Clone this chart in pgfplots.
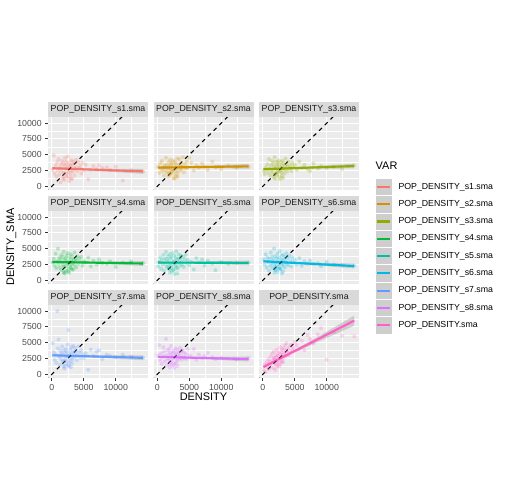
\documentclass[border=0pt]{standalone}
\usepackage{fontspec}
\setmainfont{Liberation Sans}
\usepackage{pgfplots}
\usepackage{pgfplotstable}
\pgfplotsset{compat=1.18}

\definecolor{c1}{HTML}{F8766D}
\definecolor{c2}{HTML}{D39200}
\definecolor{c3}{HTML}{93AA00}
\definecolor{c4}{HTML}{00BA38}
\definecolor{c5}{HTML}{00C19F}
\definecolor{c6}{HTML}{00B9E3}
\definecolor{c7}{HTML}{619CFF}
\definecolor{c8}{HTML}{DB72FB}
\definecolor{c9}{HTML}{FF61C3}
\definecolor{panelbg}{HTML}{EBEBEB}
\definecolor{stripbg}{HTML}{D9D9D9}
\definecolor{ticklab}{HTML}{4D4D4D}
\definecolor{tickcol}{HTML}{333333}
\definecolor{striptext}{HTML}{1A1A1A}
\definecolor{ribbon}{HTML}{999999}
\definecolor{keybg}{HTML}{CECECE}

\pgfplotstableread{
x a b c d e f g h m
150 2600 3100 2400 2800 2200 3300 4900 3000 600
300 4900 2100 1900 3400 2900 2500 3500 4600 1500
450 2000 3600 3000 2300 3600 4100 2300 2200 300
600 3300 2700 2600 4200 1800 2000 3100 3300 1900
700 1500 4000 3500 1900 3200 3600 1800 1600 1100
850 3800 2400 2100 3000 2500 2900 10000 2700 2400
950 2500 3000 4300 5000 4000 1500 4100 4300 800
1050 4300 1700 2800 2600 1500 3400 5500 3600 2000
1150 1800 3400 1700 3600 3400 2300 2700 2000 1400
1250 3000 2600 3300 2000 2700 4400 1500 2900 2800
1350 600 4500 2500 3300 4500 2700 3700 5600 1700
1450 3500 2200 4000 1600 2100 3700 2400 2400 3300
1500 2300 3300 2200 4000 3300 1900 3300 1400 2200
1600 4000 2900 3600 2800 3800 3200 4400 3800 1000
1700 2800 1500 1400 3700 2300 2600 2000 3100 2600
1750 1200 3800 3100 2400 3000 5000 3000 2600 3600
1850 3600 2500 4600 4500 1800 2200 3800 4000 1800
1900 2100 3200 2700 2100 4100 3800 2200 2300 2300
2000 3200 4200 2000 3200 2600 2800 1200 3400 3000
2050 4500 2000 3900 1200 3500 1700 3400 1900 1500
2150 2700 3500 3200 3500 2000 3500 2600 4500 2700
2200 3900 2800 1800 2700 3700 2400 4000 2800 3900
2300 1600 3700 3700 3900 2400 4200 2900 3200 2100
2350 3400 2300 2400 2300 4300 3000 3600 2100 2900
2450 2900 4100 3400 3000 2900 2100 2100 3700 3400
2500 4700 2600 4100 4300 1600 3600 4700 2500 1800
2600 2200 3300 2300 2600 3100 2600 7000 3500 2500
2650 3700 1900 3000 1800 3900 4600 2800 1700 3200
2750 2500 3900 2600 3600 2700 1800 3300 3000 4300
2800 3100 2700 3800 2900 2200 3300 1900 4100 2300
2900 1900 3600 2100 2200 3600 2700 3900 2700 3600
2950 3300 2400 3300 4100 4600 3900 2500 3300 2800
3050 4100 3000 2900 3300 3200 2300 4300 2200 3900
3100 2600 4400 4000 2500 2600 3100 3100 3900 3100
3200 3500 2100 2500 3800 1900 4000 2300 3100 2600
3300 2300 3400 3600 2700 3400 2500 3600 2400 4100
3350 3900 2900 2000 1700 4100 3400 4500 3600 3300
3450 2900 4300 3200 3200 2800 2000 2700 2900 4600
3550 1700 2500 4400 4400 3500 3700 3400 4200 2900
3600 3600 3200 2700 2400 2300 2900 4200 2600 3700
3700 2700 3700 3500 3400 3900 4300 2900 3400 4900
3800 4200 2700 2300 2000 3000 2600 3700 2300 3400
3900 3000 3100 3100 3100 2500 3500 2200 3800 4000
4000 2400 4600 3900 3800 3700 2400 3000 2800 3000
4150 3800 2200 2800 2600 2100 3900 4400 3500 4400
4300 2800 3500 3300 3500 3300 3000 3500 2500 3500
4450 3200 2800 2400 2900 4000 2200 2600 3200 4700
4600 2000 3900 3700 3700 2700 3600 3800 2400 3800
4800 3700 3000 3000 2300 3200 2800 3200 4000 4200
5000 2500 4500 3400 3000 2400 3200 2500 3000 5100
5300 3400 3700 2600 2800 2900 2500 3300 2700 4600
5700 1100 2500 3900 3600 1700 3500 700 4000 4000
6100 2600 3300 2900 2200 3500 2300 3900 2300 5300
6500 3200 2900 3400 3100 2800 3000 2900 3100 3800
7000 2700 3600 2700 2500 3300 2600 3600 2600 6200
7400 3300 3100 2400 3300 2300 3100 3800 2900 5600
7900 2900 2600 3600 2700 3100 2600 2400 3400 4900
8600 3000 3900 2800 2600 2600 2700 3100 2700 6300
9100 2600 3000 3200 3000 1600 2200 2900 2400 7300
10000 3100 2700 2900 2100 2900 2900 2700 2600 2300
11100 900 3300 3100 2800 2600 2500 3100 2500 6700
12400 2500 2900 2700 3000 2800 2400 2800 2300 6100
14300 2300 3100 3300 2700 2800 2300 2600 2600 6000
2250 2000 2400 2200 1500 1400 1300 1600 1400 1300
2700 800 1200 1100 1200 1000 1700 1300 1000 1600
3000 1300 1600 1600 1900 2000 1100 1100 1800 2000
1950 1000 1800 1200 1100 1200 1600 900 1100 700
2550 1400 1300 1500 1400 1700 1900 1400 1500 1200
3150 1100 1500 1300 1700 1100 1400 1700 1300 1900
1800 1500 2000 1800 1300 1900 1200 1300 1700 2500
}\data

\pgfplotsset{
  facet/.style={
    scale only axis, width=100bp, height=72.5bp, anchor=south west,
    xmin=-600, xmax=15050, ymin=-600, ymax=10900,
    scaled ticks=false,
    axis background/.style={fill=panelbg},
    axis line style={draw=none},
    xtick={0,5000,10000}, ytick={0,2500,5000,7500,10000},
    minor xtick={2500,7500,12500}, minor ytick={1250,3750,6250,8750},
    grid=both,
    major grid style={white, line width=1.07bp},
    minor grid style={white, line width=0.53bp},
    tick align=outside, tick pos=left,
    major tick length=2.75bp, minor tick length=0pt,
    tick style={tickcol, line width=1.07bp},
    tick label style={font=\fontsize{8.8}{10}\selectfont, text=ticklab},
    /pgf/number format/assume math mode=true,
    /pgf/number format/1000 sep={},
    every axis title/.style={at={(0.5,1)}, anchor=south, fill=stripbg,
      minimum width=100bp, minimum height=15.5bp, inner sep=0pt,
      text=striptext, font=\fontsize{8.8}{10}\selectfont},
  },
  noxlab/.style={xticklabels={}, xtick style={draw=none}},
  noylab/.style={yticklabels={}, ytick style={draw=none}},
  pts/.style={only marks, color=#1, mark=*, mark size=2bp, mark options={fill=#1, draw opacity=0, fill opacity=0.25}},
  fit/.style={#1, line width=2.13bp},
  rib/.style={fill=ribbon, fill opacity=0.4, draw=none},
  abl/.style={black, line width=1.07bp, dash pattern=on 4bp off 4bp},
}

\begin{document}
\begin{tikzpicture}[x=1bp,y=1bp]
\path[use as bounding box] (0,0) rectangle (504,504);

% Row 1
\begin{axis}[facet, at={(48bp,314bp)}, noxlab, title={POP\_DENSITY\_s1.sma}]
\addplot[pts=c1] table[x=x, y=a] {\data};
\addplot[rib] coordinates {(100,3030) (3000,2848) (8000,2772) (14300,2730) (14300,1970) (8000,2372) (3000,2648) (100,2670)} -- cycle;
\addplot[fit=c1] coordinates {(100,2850) (14300,2350)};
\addplot[abl] coordinates {(-1000,-1000) (16000,16000)};
\end{axis}
\begin{axis}[facet, at={(153.5bp,314bp)}, noxlab, noylab, title={POP\_DENSITY\_s2.sma}]
\addplot[pts=c2] table[x=x, y=b] {\data};
\addplot[rib] coordinates {(100,3130) (3000,3091) (8000,3261) (14300,3530) (14300,2770) (8000,2861) (3000,2891) (100,2770)} -- cycle;
\addplot[fit=c2] coordinates {(100,2950) (14300,3150)};
\addplot[abl] coordinates {(-1000,-1000) (16000,16000)};
\end{axis}
\begin{axis}[facet, at={(259bp,314bp)}, noxlab, noylab, title={POP\_DENSITY\_s3.sma}]
\addplot[pts=c3] table[x=x, y=c] {\data};
\addplot[rib] coordinates {(100,2880) (3000,2902) (8000,3178) (14300,3580) (14300,2820) (8000,2778) (3000,2702) (100,2520)} -- cycle;
\addplot[fit=c3] coordinates {(100,2700) (14300,3200)};
\addplot[abl] coordinates {(-1000,-1000) (16000,16000)};
\end{axis}

% Row 2
\begin{axis}[facet, at={(48bp,220bp)}, noxlab, title={POP\_DENSITY\_s4.sma}]
\addplot[pts=c4] table[x=x, y=d] {\data};
\addplot[rib] coordinates {(100,3080) (3000,2949) (8000,2961) (14300,3030) (14300,2270) (8000,2561) (3000,2749) (100,2720)} -- cycle;
\addplot[fit=c4] coordinates {(100,2900) (14300,2650)};
\addplot[abl] coordinates {(-1000,-1000) (16000,16000)};
\end{axis}
\begin{axis}[facet, at={(153.5bp,220bp)}, noxlab, noylab, title={POP\_DENSITY\_s5.sma}]
\addplot[pts=c5] table[x=x, y=e] {\data};
\addplot[rib] coordinates {(100,2980) (3000,2890) (8000,2972) (14300,3130) (14300,2370) (8000,2572) (3000,2690) (100,2620)} -- cycle;
\addplot[fit=c5] coordinates {(100,2800) (14300,2750)};
\addplot[abl] coordinates {(-1000,-1000) (16000,16000)};
\end{axis}
\begin{axis}[facet, at={(259bp,220bp)}, noxlab, noylab, title={POP\_DENSITY\_s6.sma}]
\addplot[pts=c6] table[x=x, y=f] {\data};
\addplot[rib] coordinates {(100,3180) (3000,2947) (8000,2783) (14300,2630) (14300,1870) (8000,2383) (3000,2747) (100,2820)} -- cycle;
\addplot[fit=c6] coordinates {(100,3000) (14300,2250)};
\addplot[abl] coordinates {(-1000,-1000) (16000,16000)};
\end{axis}

% Row 3
\begin{axis}[facet, at={(48bp,126bp)}, title={POP\_DENSITY\_s7.sma}]
\addplot[pts=c7] table[x=x, y=g] {\data};
\addplot[rib] coordinates {(100,3180) (3000,3018) (8000,2977) (14300,2980) (14300,2220) (8000,2577) (3000,2818) (100,2820)} -- cycle;
\addplot[fit=c7] coordinates {(100,3000) (14300,2600)};
\addplot[abl] coordinates {(-1000,-1000) (16000,16000)};
\end{axis}
\begin{axis}[facet, at={(153.5bp,126bp)}, noylab, title={POP\_DENSITY\_s8.sma}]
\addplot[pts=c8] table[x=x, y=h] {\data};
\addplot[rib] coordinates {(100,2930) (3000,2779) (8000,2755) (14300,2780) (14300,2020) (8000,2355) (3000,2579) (100,2570)} -- cycle;
\addplot[fit=c8] coordinates {(100,2750) (14300,2400)};
\addplot[abl] coordinates {(-1000,-1000) (16000,16000)};
\end{axis}
\begin{axis}[facet, at={(259bp,126bp)}, noylab, title={POP\_DENSITY.sma}]
\addplot[pts=c9] table[x=x, y=m] {\data};
\addplot[rib] coordinates {(100,1350) (3000,2771) (8000,5563) (14300,9300) (14300,7700) (8000,4863) (3000,2531) (100,950)} -- cycle;
\addplot[fit=c9] coordinates {(100,1150) (14300,8500)};
\addplot[abl] coordinates {(-1000,-1000) (16000,16000)};
\end{axis}

% axis titles
\node[font=\fontsize{11}{13}\selectfont] at (203.5,107.3) {DENSITY};
\node[rotate=90, font=\fontsize{11}{13}\selectfont] at (11.5,257) {DENSITY\_SMA};

% legend
\node[anchor=base west, font=\fontsize{11}{13}\selectfont, inner sep=0pt] at (375.5,334) {VAR};
\foreach \c/\l [count=\i from 0] in {c1/POP\_DENSITY\_s1.sma, c2/POP\_DENSITY\_s2.sma, c3/POP\_DENSITY\_s3.sma, c4/POP\_DENSITY\_s4.sma, c5/POP\_DENSITY\_s5.sma, c6/POP\_DENSITY\_s6.sma, c7/POP\_DENSITY\_s7.sma, c8/POP\_DENSITY\_s8.sma, c9/POP\_DENSITY.sma} {
  \pgfmathsetmacro\yt{325.7-17.28*\i}
  \pgfmathsetmacro\yc{\yt-8.64}
  \fill[keybg] (375,\yt) rectangle (392.28,\yt-17.28);
  \draw[white, line width=0.5bp] (375,\yt) rectangle (392.28,\yt-17.28);
  \draw[\c, line width=2.13bp] (377,\yc) -- (390.3,\yc);
  \node[anchor=west, inner sep=0pt, font=\fontsize{8.8}{10}\selectfont, text=black] at (398.3,\yc) {\l};
}
\end{tikzpicture}
\end{document}
